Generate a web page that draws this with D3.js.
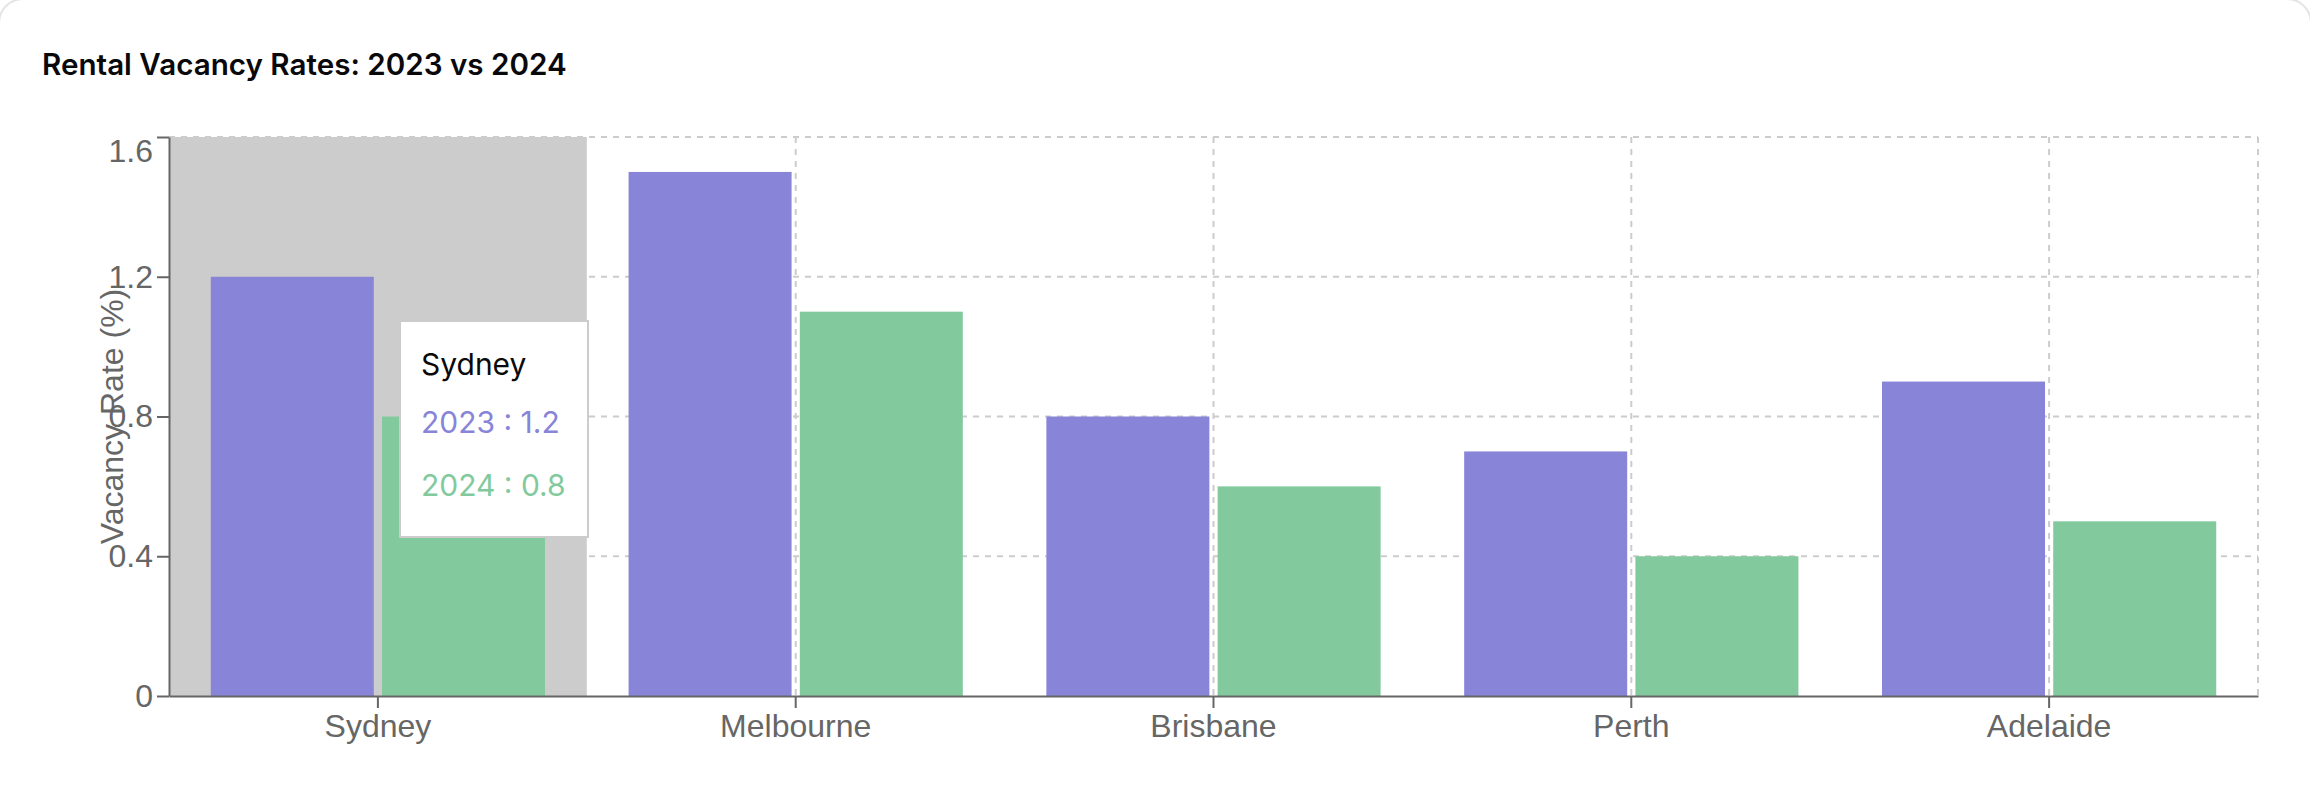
<!DOCTYPE html>
<html>
<head>
<meta charset="utf-8">
<script src="https://cdn.jsdelivr.net/npm/d3@7"></script>
<style>
  body { margin: 0; background: #fff; }
  svg { display: block; }
</style>
</head>
<body>
<div id="chart"></div>
<script>
// data
var cities = ["Sydney", "Melbourne", "Brisbane", "Perth", "Adelaide"];
var years = ["2023", "2024"];
var values2023 = [1.2, 1.5, 0.8, 0.7, 0.9];
var values2024 = [0.8, 1.1, 0.6, 0.4, 0.5];
var yTicks = [0, 0.4, 0.8, 1.2, 1.6];
var activeCity = "Sydney";

var svgWidth = 2310;
var svgHeight = 802;

var chartMargin = { top: 137, right: 52, bottom: 106, left: 169 };
var chartWidth = svgWidth - chartMargin.left - chartMargin.right;
var chartHeight = svgHeight - chartMargin.top - chartMargin.bottom;

var colors = { "2023": "#8884d8", "2024": "#82ca9d" };
var axisFont = "'Liberation Sans', Arial, Helvetica, sans-serif";
var uiFont = "Inter, 'Noto Sans', sans-serif";

var rows = cities.map(function(c, i) {
  return { city: c, "2023": values2023[i], "2024": values2024[i] };
});

var svg = d3.select("#chart")
  .append("svg")
  .attr("width", svgWidth)
  .attr("height", svgHeight);

// card edge, only the corners show
svg.append("rect")
  .attr("x", -1).attr("y", -1)
  .attr("width", svgWidth + 2).attr("height", svgHeight + 100)
  .attr("rx", 24)
  .attr("fill", "none")
  .attr("stroke", "#e4e4e7")
  .attr("stroke-width", 2);

svg.append("text")
  .attr("x", 42)
  .attr("y", 75)
  .attr("font-family", uiFont)
  .attr("font-weight", 600)
  .attr("font-size", "29.6px")
  .attr("fill", "#09090b")
  .text("Rental Vacancy Rates: 2023 vs 2024");

var chartGroup = svg.append("g")
  .attr("transform", `translate(${chartMargin.left}, ${chartMargin.top})`);

var x0 = d3.scaleBand()
  .domain(cities)
  .range([0, chartWidth])
  .padding(0);

var bw = x0.bandwidth();
var x1 = d3.scaleBand()
  .domain(years)
  .range([bw * 0.1, bw * 0.9])
  .paddingInner(0.048);

var yScale = d3.scaleLinear()
  .domain([0, 1.6])
  .range([chartHeight, 0]);

// grid
var grid = chartGroup.append("g")
  .attr("stroke", "#ccc")
  .attr("stroke-width", 2)
  .attr("stroke-dasharray", "6 6");

grid.selectAll("line.h")
  .data(yTicks.filter(d => d > 0))
  .enter()
  .append("line")
  .attr("x1", 0)
  .attr("x2", chartWidth)
  .attr("y1", d => yScale(d))
  .attr("y2", d => yScale(d));

grid.selectAll("line.v")
  .data(cities.map(c => x0(c) + bw / 2).concat([chartWidth]))
  .enter()
  .append("line")
  .attr("x1", d => d)
  .attr("x2", d => d)
  .attr("y1", 0)
  .attr("y2", chartHeight);

// hover cursor
chartGroup.append("rect")
  .attr("x", x0(activeCity))
  .attr("y", 0)
  .attr("width", bw)
  .attr("height", chartHeight)
  .attr("fill", "#ccc");

// bars
var cityGroups = chartGroup.append("g")
  .selectAll("g")
  .data(rows)
  .enter()
  .append("g")
  .attr("transform", d => `translate(${x0(d.city)}, 0)`);

cityGroups.selectAll("rect")
  .data(d => years.map(y => ({ year: y, value: d[y] })))
  .enter()
  .append("rect")
  .attr("x", d => x1(d.year))
  .attr("y", d => yScale(d.value))
  .attr("width", x1.bandwidth())
  .attr("height", d => chartHeight - yScale(d.value))
  .attr("fill", d => colors[d.year]);

// axes
var bottomAxis = d3.axisBottom(x0).tickSize(12).tickPadding(6).tickSizeOuter(0);
var leftAxis = d3.axisLeft(yScale).tickValues(yTicks).tickFormat(d => d === 0 ? "0" : d3.format(".1f")(d))
  .tickSize(12).tickPadding(4).tickSizeOuter(0);

var xAxis = chartGroup.append("g")
  .attr("transform", `translate(0, ${chartHeight})`)
  .call(bottomAxis);

var yAxis = chartGroup.append("g")
  .call(leftAxis);

[xAxis, yAxis].forEach(function(ax) {
  ax.select(".domain").attr("stroke", "#666").attr("stroke-width", 2);
  ax.selectAll(".tick line").attr("stroke", "#666").attr("stroke-width", 2);
  ax.selectAll(".tick text")
    .attr("fill", "#666")
    .attr("font-family", axisFont)
    .attr("font-size", "32px");
});

// top label sits lower in the original
yAxis.selectAll(".tick text")
  .filter(d => d === 1.6)
  .attr("dy", "0.75em");

svg.append("text")
  .attr("transform", `translate(123, ${chartMargin.top + chartHeight / 2}) rotate(-90)`)
  .attr("text-anchor", "middle")
  .attr("font-family", axisFont)
  .attr("font-size", "32px")
  .attr("fill", "#666")
  .text("Vacancy Rate (%)");

// tooltip
var active = rows.find(r => r.city === activeCity);
var tip = svg.append("g")
  .attr("transform", "translate(400, 321)");

tip.append("rect")
  .attr("width", 188)
  .attr("height", 216)
  .attr("fill", "#fff")
  .attr("stroke", "#ccc")
  .attr("stroke-width", 2);

tip.append("text")
  .attr("x", 21)
  .attr("y", 54)
  .attr("font-family", uiFont)
  .attr("font-size", "30px")
  .attr("fill", "#0a0a0a")
  .text(active.city);

tip.selectAll("text.item")
  .data(years)
  .enter()
  .append("text")
  .attr("class", "item")
  .attr("x", 21)
  .attr("y", (d, i) => 112 + i * 63)
  .attr("font-family", uiFont)
  .attr("font-size", "30px")
  .attr("fill", d => colors[d])
  .text(d => `${d} : ${active[d]}`);
</script>
</body>
</html>
